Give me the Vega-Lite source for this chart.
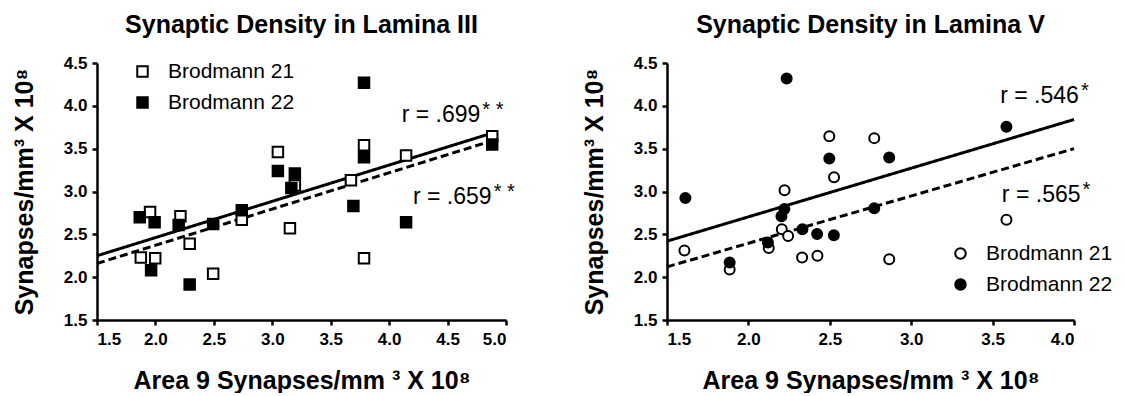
{
  "$schema": "https://vega.github.io/schema/vega-lite/v6.json",
  "background": "white",
  "padding": {"left": 12, "top": 13, "right": 5, "bottom": 0},
  "bounds": "flush",
  "spacing": 161,
  "datasets": {
    "lamina3": [
      {"area9": 1.875, "syn": 2.23, "region": "Brodmann 21"},
      {"area9": 1.954, "syn": 2.76, "region": "Brodmann 21"},
      {"area9": 1.998, "syn": 2.22, "region": "Brodmann 21"},
      {"area9": 2.214, "syn": 2.71, "region": "Brodmann 21"},
      {"area9": 2.293, "syn": 2.39, "region": "Brodmann 21"},
      {"area9": 2.494, "syn": 2.04, "region": "Brodmann 21"},
      {"area9": 2.739, "syn": 2.67, "region": "Brodmann 21"},
      {"area9": 3.048, "syn": 3.46, "region": "Brodmann 21"},
      {"area9": 3.193, "syn": 3.07, "region": "Brodmann 21"},
      {"area9": 3.151, "syn": 2.57, "region": "Brodmann 21"},
      {"area9": 3.673, "syn": 3.13, "region": "Brodmann 21"},
      {"area9": 3.785, "syn": 3.54, "region": "Brodmann 21"},
      {"area9": 3.785, "syn": 2.22, "region": "Brodmann 21"},
      {"area9": 4.145, "syn": 3.42, "region": "Brodmann 21"},
      {"area9": 4.882, "syn": 3.645, "region": "Brodmann 21"},
      {"area9": 1.866, "syn": 2.70, "region": "Brodmann 22"},
      {"area9": 1.993, "syn": 2.64, "region": "Brodmann 22"},
      {"area9": 1.963, "syn": 2.08, "region": "Brodmann 22"},
      {"area9": 2.199, "syn": 2.61, "region": "Brodmann 22"},
      {"area9": 2.293, "syn": 1.915, "region": "Brodmann 22"},
      {"area9": 2.494, "syn": 2.62, "region": "Brodmann 22"},
      {"area9": 2.739, "syn": 2.78, "region": "Brodmann 22"},
      {"area9": 3.048, "syn": 3.24, "region": "Brodmann 22"},
      {"area9": 3.163, "syn": 3.04, "region": "Brodmann 22"},
      {"area9": 3.193, "syn": 3.21, "region": "Brodmann 22"},
      {"area9": 3.694, "syn": 2.83, "region": "Brodmann 22"},
      {"area9": 3.785, "syn": 3.40, "region": "Brodmann 22"},
      {"area9": 3.785, "syn": 4.27, "region": "Brodmann 22"},
      {"area9": 4.145, "syn": 2.64, "region": "Brodmann 22"},
      {"area9": 4.882, "syn": 3.55, "region": "Brodmann 22"}
    ],
    "lamina5": [
      {"area9": 1.607, "syn": 2.31, "region": "Brodmann 21"},
      {"area9": 1.885, "syn": 2.09, "region": "Brodmann 21"},
      {"area9": 2.125, "syn": 2.34, "region": "Brodmann 21"},
      {"area9": 2.205, "syn": 2.56, "region": "Brodmann 21"},
      {"area9": 2.222, "syn": 3.015, "region": "Brodmann 21"},
      {"area9": 2.244, "syn": 2.48, "region": "Brodmann 21"},
      {"area9": 2.330, "syn": 2.23, "region": "Brodmann 21"},
      {"area9": 2.424, "syn": 2.25, "region": "Brodmann 21"},
      {"area9": 2.497, "syn": 3.645, "region": "Brodmann 21"},
      {"area9": 2.526, "syn": 3.165, "region": "Brodmann 21"},
      {"area9": 2.773, "syn": 3.623, "region": "Brodmann 21"},
      {"area9": 2.865, "syn": 2.21, "region": "Brodmann 21"},
      {"area9": 3.585, "syn": 2.67, "region": "Brodmann 21"},
      {"area9": 1.613, "syn": 2.925, "region": "Brodmann 22"},
      {"area9": 1.885, "syn": 2.17, "region": "Brodmann 22"},
      {"area9": 2.120, "syn": 2.405, "region": "Brodmann 22"},
      {"area9": 2.203, "syn": 2.71, "region": "Brodmann 22"},
      {"area9": 2.221, "syn": 2.795, "region": "Brodmann 22"},
      {"area9": 2.235, "syn": 4.32, "region": "Brodmann 22"},
      {"area9": 2.332, "syn": 2.56, "region": "Brodmann 22"},
      {"area9": 2.422, "syn": 2.503, "region": "Brodmann 22"},
      {"area9": 2.497, "syn": 3.386, "region": "Brodmann 22"},
      {"area9": 2.525, "syn": 2.49, "region": "Brodmann 22"},
      {"area9": 2.773, "syn": 2.805, "region": "Brodmann 22"},
      {"area9": 2.865, "syn": 3.396, "region": "Brodmann 22"},
      {"area9": 3.585, "syn": 3.755, "region": "Brodmann 22"}
    ],
    "lamina3_fits": [
      {"area9": 1.5, "syn": 2.25, "fit": "solid"},
      {"area9": 4.9, "syn": 3.69, "fit": "solid"},
      {"area9": 1.5, "syn": 2.16, "fit": "dashed"},
      {"area9": 4.9, "syn": 3.60, "fit": "dashed"}
    ],
    "lamina5_fits": [
      {"area9": 1.5, "syn": 2.42, "fit": "solid"},
      {"area9": 4.0, "syn": 3.84, "fit": "solid"},
      {"area9": 1.5, "syn": 2.12, "fit": "dashed"},
      {"area9": 4.0, "syn": 3.50, "fit": "dashed"}
    ],
    "lamina3_r": [
      {"area9": 4.78, "syn": 3.89, "label": "r = .699", "stars": "* *"},
      {"area9": 4.877, "syn": 2.94, "label": "r = .659", "stars": "* *"}
    ],
    "lamina5_r": [
      {"area9": 4.03, "syn": 4.11, "label": "r = .546", "stars": "*"},
      {"area9": 4.04, "syn": 2.96, "label": "r = .565", "stars": "*"}
    ]
  },
  "config": {
    "font": "Liberation Sans",
    "view": {"stroke": null},
    "axis": {
      "grid": false,
      "domainColor": "black",
      "domainWidth": 2.5,
      "tickColor": "black",
      "tickWidth": 2.5,
      "tickSize": 5,
      "labelFont": "Liberation Sans",
      "labelFontWeight": "bold",
      "labelFontSize": 17,
      "labelColor": "black",
      "titleFont": "Liberation Sans",
      "titleFontWeight": "bold",
      "titleFontSize": 25,
      "titleColor": "black"
    },
    "axisX": {"labelPadding": 6, "titlePadding": 21},
    "axisY": {"labelPadding": 5, "titlePadding": 26},
    "title": {
      "font": "Liberation Sans",
      "fontSize": 25,
      "fontWeight": "bold",
      "color": "black",
      "offset": 16,
      "frame": "group"
    },
    "legend": {
      "labelFont": "Liberation Sans",
      "labelFontSize": 21,
      "labelColor": "black",
      "symbolStrokeColor": "black",
      "symbolStrokeWidth": 2,
      "symbolSize": 110,
      "rowPadding": 9,
      "labelOffset": 15,
      "padding": 0
    }
  },
  "hconcat": [
    {
      "width": 409,
      "height": 257,
      "title": {"text": "Synaptic Density in Lamina III"},
      "encoding": {
        "x": {
          "field": "area9",
          "type": "quantitative",
          "scale": {"domain": [1.5, 5.0], "nice": false, "zero": false},
          "axis": {
            "title": "Area 9 Synapses/mm ³ X 10⁸",
            "values": [1.5, 2.0, 2.5, 3.0, 3.5, 4.0, 4.5, 5.0],
            "format": ".1f"
          }
        },
        "y": {
          "field": "syn",
          "type": "quantitative",
          "scale": {"domain": [1.5, 4.5], "nice": false, "zero": false},
          "axis": {
            "title": "Synapses/mm³ X 10⁸",
            "values": [1.5, 2.0, 2.5, 3.0, 3.5, 4.0, 4.5],
            "format": ".1f"
          }
        }
      },
      "layer": [
        {
          "data": {"name": "lamina3_fits"},
          "mark": {"type": "line", "color": "black", "strokeWidth": 3},
          "encoding": {
            "strokeDash": {
              "field": "fit",
              "type": "nominal",
              "scale": {"domain": ["solid", "dashed"], "range": [[1, 0], [8, 4]]},
              "legend": null
            }
          }
        },
        {
          "data": {"name": "lamina3"},
          "mark": {"type": "point", "shape": "square", "filled": true, "stroke": "black", "strokeWidth": 2, "size": 110, "opacity": 1},
          "encoding": {
            "fill": {
              "field": "region",
              "type": "nominal",
              "scale": {"domain": ["Brodmann 21", "Brodmann 22"], "range": ["white", "black"]},
              "legend": {"title": null, "orient": "none", "legendX": 35, "legendY": -2, "symbolType": "square"}
            }
          }
        },
        {
          "data": {"name": "lamina3_r"},
          "mark": {"type": "text", "align": "right", "baseline": "middle", "fontSize": 23, "color": "black"},
          "encoding": {"text": {"field": "label", "type": "nominal"}}
        },
        {
          "data": {"name": "lamina3_r"},
          "mark": {"type": "text", "align": "left", "baseline": "middle", "fontSize": 20, "dx": 2, "dy": -5, "color": "black"},
          "encoding": {"text": {"field": "stars", "type": "nominal"}}
        }
      ]
    },
    {
      "width": 407,
      "height": 257,
      "title": {"text": "Synaptic Density in Lamina V"},
      "encoding": {
        "x": {
          "field": "area9",
          "type": "quantitative",
          "scale": {"domain": [1.5, 4.0], "nice": false, "zero": false},
          "axis": {
            "title": "Area 9 Synapses/mm ³ X 10⁸",
            "values": [1.5, 2.0, 2.5, 3.0, 3.5, 4.0],
            "format": ".1f"
          }
        },
        "y": {
          "field": "syn",
          "type": "quantitative",
          "scale": {"domain": [1.5, 4.5], "nice": false, "zero": false},
          "axis": {
            "title": "Synapses/mm³ X 10⁸",
            "values": [1.5, 2.0, 2.5, 3.0, 3.5, 4.0, 4.5],
            "format": ".1f"
          }
        }
      },
      "layer": [
        {
          "data": {"name": "lamina5_fits"},
          "mark": {"type": "line", "color": "black", "strokeWidth": 3},
          "encoding": {
            "strokeDash": {
              "field": "fit",
              "type": "nominal",
              "scale": {"domain": ["solid", "dashed"], "range": [[1, 0], [8, 4]]},
              "legend": null
            }
          }
        },
        {
          "data": {"name": "lamina5"},
          "mark": {"type": "point", "shape": "circle", "filled": true, "stroke": "black", "strokeWidth": 2, "size": 100, "opacity": 1},
          "encoding": {
            "fill": {
              "field": "region",
              "type": "nominal",
              "scale": {"domain": ["Brodmann 21", "Brodmann 22"], "range": ["white", "black"]},
              "legend": {"title": null, "orient": "none", "legendX": 283, "legendY": 180, "symbolType": "circle"}
            }
          }
        },
        {
          "data": {"name": "lamina5_r"},
          "mark": {"type": "text", "align": "right", "baseline": "middle", "fontSize": 23, "color": "black"},
          "encoding": {"text": {"field": "label", "type": "nominal"}}
        },
        {
          "data": {"name": "lamina5_r"},
          "mark": {"type": "text", "align": "left", "baseline": "middle", "fontSize": 20, "dx": 2, "dy": -5, "color": "black"},
          "encoding": {"text": {"field": "stars", "type": "nominal"}}
        }
      ]
    }
  ],
  "resolve": {"scale": {"fill": "independent", "x": "independent", "y": "independent"}, "legend": {"fill": "independent"}}
}
